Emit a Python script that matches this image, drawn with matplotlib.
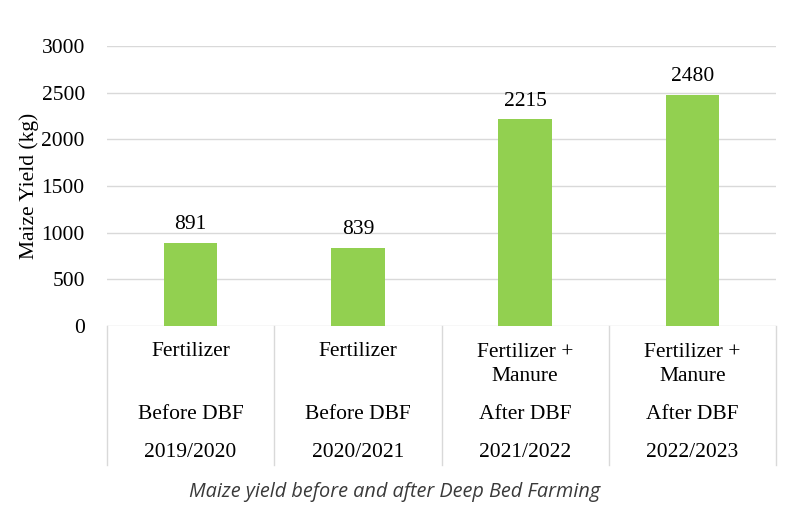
import matplotlib.pyplot as plt
from matplotlib.transforms import blended_transform_factory

# data
treatments = ['Fertilizer', 'Fertilizer', 'Fertilizer +\nManure', 'Fertilizer +\nManure']
phases = ['Before DBF', 'Before DBF', 'After DBF', 'After DBF']
seasons = ['2019/2020', '2020/2021', '2021/2022', '2022/2023']
yields = [891, 839, 2215, 2480]

BAR = '#92D050'
GRID = '#d9d9d9'
SERIF = 'Liberation Serif'

fig = plt.figure(figsize=(8.02, 5.22), dpi=100)
ax = fig.add_axes([0.1334, 0.3755, 0.8342, 0.5364])

x = list(range(len(yields)))
ax.bar(x, yields, width=0.32, color=BAR, zorder=3)
for xi, v in zip(x, yields):
    ax.annotate(str(v), (xi, v), xytext=(0, 6), textcoords='offset points',
                ha='center', va='bottom', fontsize=15.5, family=SERIF)

ax.set_xlim(-0.5, len(yields) - 0.5)
ax.set_ylim(0, 3000)
ax.set_yticks(range(0, 3001, 500))
ax.set_xticks([])
ax.grid(axis='y', color=GRID, linewidth=1, zorder=0)
for s in ax.spines.values():
    s.set_visible(False)
ax.tick_params(axis='y', length=0, pad=16, labelsize=15.5)
for lab in ax.get_yticklabels():
    lab.set_family(SERIF)
ax.set_ylabel('Maize Yield (kg)', fontsize=15.5, family=SERIF, labelpad=2)

# category table below the axis
tr = blended_transform_factory(ax.transData, fig.transFigure)
for b in [i - 0.5 for i in range(len(yields) + 1)]:
    ax.plot([b, b], [0.3755, 0.109], transform=tr, color=GRID, lw=1, clip_on=False)
for xi in x:
    top = 0.326 if '\n' not in treatments[xi] else 0.3017
    ax.text(xi, top, treatments[xi], transform=tr, ha='center', va='center',
            fontsize=15.5, family=SERIF, linespacing=1.4)
    ax.text(xi, 0.205, phases[xi], transform=tr, ha='center', va='center',
            fontsize=15.5, family=SERIF)
    ax.text(xi, 0.134, seasons[xi], transform=tr, ha='center', va='center',
            fontsize=15.5, family=SERIF)

fig.text(0.492, 0.0575, 'Maize yield before and after Deep Bed Farming',
         ha='center', va='center', fontsize=14.3, style='italic',
         family='Open Sans', color='#3a3a3a')

fig.savefig('out.png', dpi=100)
